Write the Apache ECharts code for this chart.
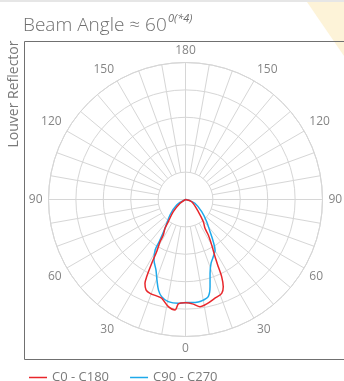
<!DOCTYPE html>
<html>
<head>
<meta charset="utf-8">
<style>
  html, body { margin: 0; padding: 0; background: #fff; }
  #chart { width: 344px; height: 381px; }
</style>
<script src="https://cdn.jsdelivr.net/npm/echarts@6/dist/echarts.min.js"></script>
</head>
<body>
<div id="chart"></div>
<script>
// Photometric curves: angle in degrees from nadir (negative = left half), intensity value
const seriesNames = ['C0 - C180', 'C90 - C270'];

const c0Angles = [-90, -55, -45, -37.8, -35.4, -32, -31.1, -28.9, -27.9, -26.7, -25.8, -23.6, -20.7, -15.6, -13.5, -9.1, -5.4, -3.9, 0,
  4.3, 7.7, 11.5, 16.6, 21.1, 23.4, 25.1, 26, 27.3, 29.9, 32.7, 34.1, 38.7, 46.4, 70, 90];
const c0Values = [0, 24, 63, 103, 129, 153, 180, 218, 264, 315, 340, 360, 366, 368, 371, 396, 405, 382, 377,
  383, 395, 389, 376, 367, 347, 311, 273, 235, 192, 154, 127, 104, 65, 24, 0];

const c90Angles = [-90, -58, -45, -35.4, -32, -31, -27.5, -22.7, -19.5, -16.6, -13.8, -9.6, -4, 0,
  3.4, 7.1, 10, 13.2, 15.7, 18.4, 21.8, 25.9, 30.3, 33.4, 37.3, 43.7, 53, 68.2, 80, 90];
const c90Values = [0, 38, 80, 129, 180, 215, 249, 279, 312, 345, 365, 378, 380, 376,
  377, 377, 373, 364, 331, 284, 251, 232, 214, 184, 148, 112, 74, 37, 10, 0];

// Angle labels around the diagram (mirrored on both halves)
const angleTickLabels = [0, 30, 60, 90, 120, 150, 180];

const toPolar = (angles, values) =>
  angles.map((a, i) => [values[i], (a + 360) % 360]);

const chart = echarts.init(document.getElementById('chart'), null, { renderer: 'canvas' });

const FONT = '"Open Sans", "Noto Sans", sans-serif';
const CX = 185.5, CY = 199.5, R = 137;
const gridColor = '#d6d6d6';

chart.setOption({
  backgroundColor: '#ffffff',
  animation: false,
  polar: [
    { center: [CX, CY], radius: [0, R] },
    { center: [CX, CY], radius: [R / 5, R] }
  ],
  angleAxis: [
    {
      polarIndex: 0, type: 'value', min: 0, max: 360, interval: 90,
      startAngle: 270, clockwise: false,
      axisLine: { show: true, lineStyle: { color: gridColor, width: 1 } },
      axisTick: { show: false },
      axisLabel: { show: false },
      splitLine: { show: true, lineStyle: { color: gridColor, width: 1 } }
    },
    {
      polarIndex: 1, type: 'value', min: 0, max: 360, interval: 10,
      startAngle: 270, clockwise: false,
      axisLine: { show: false },
      axisTick: { show: false },
      axisLabel: {
        show: true, margin: 6, color: '#858585', fontSize: 12, fontFamily: FONT,
        formatter: v => {
          if (v >= 360 || v % 30 !== 0) return '';
          const d = v > 180 ? 360 - v : v;
          return angleTickLabels.includes(d) ? String(d) : '';
        }
      },
      splitLine: { show: true, lineStyle: { color: gridColor, width: 1 } }
    }
  ],
  radiusAxis: [
    {
      polarIndex: 0, type: 'value', min: 0, max: 500, interval: 100,
      axisLine: { show: false }, axisTick: { show: false }, axisLabel: { show: false },
      splitLine: { show: true, lineStyle: { color: gridColor, width: 1 } }
    },
    {
      polarIndex: 1, type: 'value', min: 0, max: 400,
      axisLine: { show: false }, axisTick: { show: false }, axisLabel: { show: false },
      splitLine: { show: false }
    }
  ],
  legend: {
    left: 24, top: 366, itemWidth: 18, itemHeight: 1.5, itemGap: 21,
    icon: 'rect',
    textStyle: { color: '#7a7a7a', fontSize: 13, fontFamily: FONT },
    data: seriesNames
  },
  series: [
    {
      name: seriesNames[1], type: 'line', coordinateSystem: 'polar', polarIndex: 0,
      data: toPolar(c90Angles, c90Values), showSymbol: false, smooth: 0.3, z: 3,
      itemStyle: { color: '#1ea9ea' },
      lineStyle: { color: '#1ea9ea', width: 1.5 }
    },
    {
      name: seriesNames[0], type: 'line', coordinateSystem: 'polar', polarIndex: 0,
      data: toPolar(c0Angles, c0Values), showSymbol: false, smooth: 0.3, z: 4,
      itemStyle: { color: '#e8262b' },
      lineStyle: { color: '#e8262b', width: 1.5 }
    }
  ],
  graphic: [
    { type: 'rect', z: -10, shape: { x: 0, y: 0, width: 344, height: 2 }, style: { fill: '#e6e6e6' } },
    { type: 'polygon', z: -10, shape: { points: [[307, 2], [344, 2], [344, 56]] }, style: { fill: '#fdf3d8' } },
    {
      type: 'polyline', z: -5,
      shape: { points: [[344, 41.5], [24.5, 41.5], [24.5, 359.5], [344, 359.5]] },
      style: { stroke: '#707070', lineWidth: 1, fill: null }
    },
    {
      type: 'text', x: 23, y: 26,
      style: { text: 'Beam Angle ≈ 60', fill: '#707070', font: '300 19px ' + FONT, verticalAlign: 'middle' }
    },
    {
      type: 'text', x: 168, y: 19,
      style: { text: '0(*4)', fill: '#707070', font: 'italic 11px ' + FONT, verticalAlign: 'middle' }
    },
    {
      type: 'text', x: 14, y: 94, rotation: Math.PI / 2,
      style: { text: 'Louver Reflector', fill: '#7a7a7a', font: '14px ' + FONT, align: 'center', verticalAlign: 'middle' }
    }
  ]
});
</script>
</body>
</html>
